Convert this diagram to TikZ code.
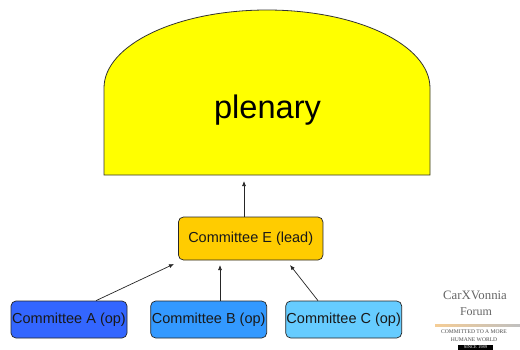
\documentclass[tikz,border=0pt]{standalone}
\usepackage{fontspec}
\setmainfont{Liberation Sans}
\newfontfamily\logofont{Liberation Serif}
\usetikzlibrary{arrows.meta}
\definecolor{plenfill}{RGB}{255,255,0}
\definecolor{efill}{RGB}{255,204,0}
\definecolor{afill}{RGB}{51,102,255}
\definecolor{bfill}{RGB}{51,153,255}
\definecolor{cfill}{RGB}{102,204,255}
\newcommand{\lowertext}[1]{\raisebox{-2pt}{#1}}
\tikzset{
  x=1pt,y=-1pt,
  cbox/.style={draw=black!85,line width=0.7pt,rounded corners=5pt,minimum height=37pt,minimum width=116pt,inner sep=0pt,text=black!90,font=\fontsize{14.5}{16}\selectfont},
  link/.style={draw=black!85,line width=0.7pt,-{Latex[length=5pt,width=4pt]}},
  logotxt/.style={inner sep=0pt,text=black!70,font=\logofont\fontsize{5.6}{6}\selectfont}
}
\begin{document}
\begin{tikzpicture}
\useasboundingbox (0,0) rectangle (520,349);
\path[fill=white] (0,0) rectangle (520,349);
% plenary
\draw[fill=plenfill,draw=black!80,line width=0.8pt] (104,175) -- (104,88) arc[start angle=180,end angle=0,x radius=163,y radius=-78] -- (430,175) -- cycle;
\node[inner sep=0pt,font=\fontsize{32.6}{36}\selectfont,text=black] (plen) at (267.5,110) {plenary};
\coordinate (pin) at (244,181);
\node[cbox,fill=efill,minimum width=144.5pt,minimum height=43pt] (e) at (250.7,238.5) {\lowertext{Committee E (lead)}};
\node[cbox,fill=afill] (a) at (69,319.5) {\lowertext{Committee A (op)}};
\node[cbox,fill=bfill] (b) at (208.7,319.5) {\lowertext{Committee B (op)}};
\node[cbox,fill=cfill] (c) at (343.7,319.5) {\lowertext{Committee C (op)}};
\coordinate (ea) at (174,264);
\coordinate (eb) at (220,265);
\coordinate (ec) at (290,265);
\draw[link] (e.north -| pin) -- (pin);
\draw[link] (a.north -| 96,0) -- (ea);
\draw[link] (b.north -| eb) -- (eb);
\draw[link] (c.north -| 318,0) -- (ec);
% logo
\node[inner sep=0pt,text=black!60,font=\logofont\fontsize{12.8}{14}\selectfont] (l1) at (475,295) {CarXVonnia};
\node[inner sep=0pt,text=black!60,font=\logofont\fontsize{12}{13}\selectfont] (l2) at (476,312) {Forum};
\shade[left color={rgb,255:red,245;green,205;blue,150},right color=black!25] (435,324.5) rectangle (520,326);
\node[logotxt] (l3) at (474,331.5) {COMMITTED TO A MORE};
\node[logotxt] (l4) at (474,339.5) {HUMANE WORLD};
\node[fill=black,text=white,inner sep=0pt,minimum width=35pt,minimum height=5pt,font=\logofont\fontsize{4.5}{5}\selectfont] (l5) at (475.5,347) {SINCE 1989};
\end{tikzpicture}
\end{document}
